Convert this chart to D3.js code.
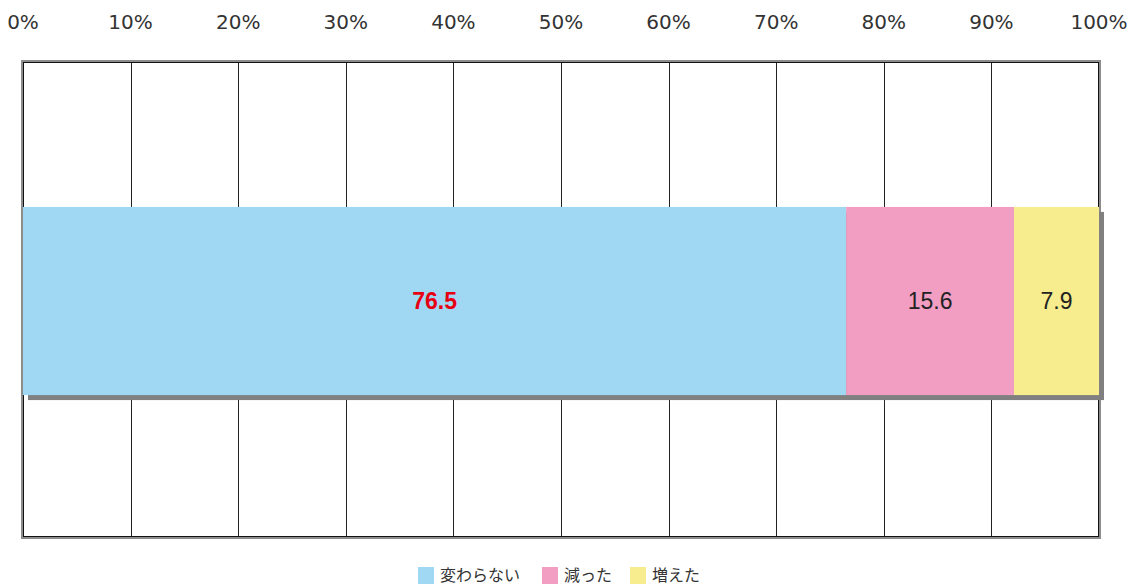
<!DOCTYPE html>
<html>
<head>
<meta charset="utf-8">
<script src="https://cdn.jsdelivr.net/npm/d3@7"></script>
<style>
body{margin:0;background:#fff;overflow:hidden;}
</style>
</head>
<body>
<script>
var categories = ["変わらない","減った","増えた"];
var values = [76.5,15.6,7.9];
var colors = ["#a0d8f3","#f19ec2","#f7ec8e"];
var labelColors = ["#e60012","#222","#222"];
var ticks = [0,10,20,30,40,50,60,70,80,90,100];

var width = 1137, height = 587;
var marge = {top:62,left:23,right:38,bottom:50};

var svg = d3.select("body").append("svg")
    .attr("width",width)
    .attr("height",height)
    .style("display","block");

var x = d3.scaleLinear().domain([0,100]).range([marge.left,width-marge.right]);
var y = d3.scaleBand().domain(["row"]).range([marge.top+3,height-marge.bottom]).padding(0.43);

// grid lines
svg.append("g").selectAll("line")
    .data(ticks.slice(1,-1))
    .enter().append("line")
    .attr("x1",function(d){return Math.round(x(d))+0.5;})
    .attr("x2",function(d){return Math.round(x(d))+0.5;})
    .attr("y1",marge.top)
    .attr("y2",height-marge.bottom)
    .attr("stroke","#222")
    .attr("stroke-width",1);

// frame: gray outer, dark inner
svg.append("rect")
    .attr("x",x(0)-1).attr("y",marge.top-1)
    .attr("width",x(100)-x(0)+2).attr("height",height-marge.bottom-marge.top+2)
    .attr("fill","none").attr("stroke","#8c8c8c").attr("stroke-width",2);
svg.append("rect")
    .attr("x",x(0)+0.5).attr("y",marge.top+0.5)
    .attr("width",x(100)-x(0)-1).attr("height",height-marge.bottom-marge.top-1)
    .attr("fill","none").attr("stroke","#111").attr("stroke-width",1);

// stacked data
var stack = [];
var acc = 0;
values.forEach(function(v,i){
    stack.push({name:categories[i],value:v,x0:acc,x1:acc+v,color:colors[i],lc:labelColors[i]});
    acc += v;
});

// shadow
svg.append("rect")
    .attr("x",x(0)+5)
    .attr("y",y("row")+5)
    .attr("width",x(acc)-x(0))
    .attr("height",y.bandwidth())
    .attr("fill","#808080");

svg.append("g").selectAll("rect")
    .data(stack)
    .enter().append("rect")
    .attr("x",function(d){return x(d.x0);})
    .attr("y",y("row"))
    .attr("width",function(d){return x(d.x1)-x(d.x0);})
    .attr("height",y.bandwidth())
    .attr("fill",function(d){return d.color;});

svg.append("g").selectAll("text")
    .data(stack)
    .enter().append("text")
    .attr("x",function(d){return (x(d.x0)+x(d.x1))/2;})
    .attr("y",y("row")+y.bandwidth()/2)
    .attr("dy","0.35em")
    .attr("text-anchor","middle")
    .style("font-size","23px")
    .style("font-family","'Liberation Sans',Arial,sans-serif")
    .style("font-weight",function(d,i){return i==0?"bold":"normal";})
    .attr("fill",function(d){return d.lc;})
    .text(function(d){return d.value.toFixed(1);});

// top axis labels
svg.append("g").selectAll("text")
    .data(ticks)
    .enter().append("text")
    .attr("x",function(d){return x(d);})
    .attr("y",22)
    .attr("dy","0.35em")
    .attr("text-anchor","middle")
    .style("font-size","20px")
    .style("font-family","'DejaVu Sans',sans-serif")
    .style("font-weight","normal")
    .attr("fill","#333")
    .text(function(d){return d+"%";});

// legend
var legendItems = [
    {name:categories[0],color:colors[0],x:418},
    {name:categories[1],color:colors[1],x:542},
    {name:categories[2],color:colors[2],x:630}
];
var lg = svg.append("g").selectAll("g")
    .data(legendItems)
    .enter().append("g")
    .attr("transform",function(d){return "translate("+d.x+",567)";});
lg.append("rect")
    .attr("width",16).attr("height",17)
    .attr("fill",function(d){return d.color;});
lg.append("text")
    .attr("x",22).attr("y",14)
    .style("font-size","16px")
    .style("font-family","'Noto Sans CJK JP',sans-serif")
    .attr("fill","#333")
    .text(function(d){return d.name;});
</script>
</body>
</html>
